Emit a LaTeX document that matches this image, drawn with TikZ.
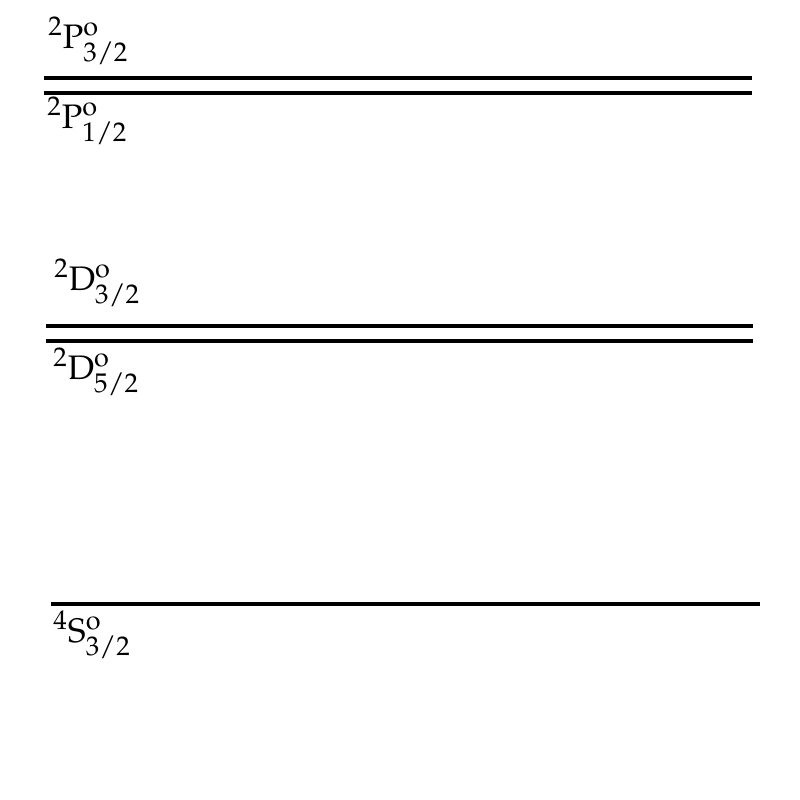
\documentclass[tikz,border=0pt]{standalone}
\usepackage{mathpazo}
\DeclareMathSizes{17}{17}{13.5}{10}
\tikzset{
  level/.style={line width=2pt},
  lab/.style={anchor=base west, inner sep=0pt, font=\fontsize{17}{20}\selectfont}
}
\begin{document}
\begin{tikzpicture}[x=0.5pt,y=-0.5pt]
\useasboundingbox (0,0) rectangle (800,800);
% levels
\draw[level] (44,77.5) -- (752,77.5);
\draw[level] (44,93) -- (752,93);
\draw[level] (46,325.5) -- (753,325.5);
\draw[level] (46,341) -- (753,341);
\draw[level] (51,604) -- (760,604);
% labels
\node[lab] (p32) at (48,48) {$^2\mathrm{P}^{\mathrm{o}}_{3/2}$};
\node[lab] (p12) at (47,128) {$^2\mathrm{P}^{\mathrm{o}}_{1/2}$};
\node[lab] (d32) at (54,290) {$^2\mathrm{D}^{\mathrm{o}}_{3/2}$};
\node[lab] (d52) at (53,379) {$^2\mathrm{D}^{\mathrm{o}}_{5/2}$};
\node[lab] (s32) at (53,642) {$^4\mathrm{S}^{\mathrm{o}}_{3/2}$};
\end{tikzpicture}
\end{document}
